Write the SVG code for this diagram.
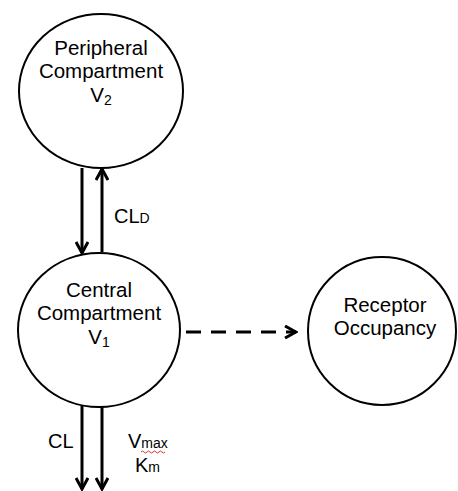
<svg xmlns="http://www.w3.org/2000/svg" width="458" height="491" viewBox="0 0 458 491">
<defs>
<style>
.node{fill:#fff;stroke:#000;stroke-width:2}
.t{font-family:"Liberation Sans",Arial,sans-serif;font-size:20.5px;fill:#000;text-anchor:middle}
.l{font-family:"Liberation Sans",Arial,sans-serif;font-size:20px;fill:#000}
.sub{font-size:14px}
.c{fill:none;stroke:#000;stroke-width:3}
</style>
<marker id="ah" viewBox="0 0 14 14" refX="12" refY="7" markerWidth="14" markerHeight="14" markerUnits="userSpaceOnUse" orient="auto">
<path d="M1,1 L12,7 L1,13" fill="none" stroke="#000" stroke-width="3"/>
</marker>
</defs>
<rect width="458" height="491" fill="#fff"/>
<g id="peripheral">
<ellipse class="node" cx="101" cy="91" rx="82" ry="77"/>
<text class="t" x="101" y="55">Peripheral</text>
<text class="t" x="101" y="78">Compartment</text>
<text class="t" x="101" y="102">V<tspan class="sub" dy="3">2</tspan></text>
</g>
<g id="central">
<ellipse class="node" cx="99" cy="330" rx="81" ry="77"/>
<text class="t" x="99" y="297">Central</text>
<text class="t" x="99" y="320">Compartment</text>
<text class="t" x="99" y="344">V<tspan class="sub" dy="3">1</tspan></text>
</g>
<g id="receptor">
<ellipse class="node" cx="382" cy="331" rx="74" ry="74"/>
<text class="t" x="385" y="312">Receptor</text>
<text class="t" x="385" y="335">Occupancy</text>
</g>
<g id="connectors">
<line class="c" x1="82" y1="168" x2="82" y2="253" marker-end="url(#ah)"/>
<line class="c" x1="102" y1="252" x2="102" y2="169" marker-end="url(#ah)"/>
<line class="c" x1="186" y1="332" x2="296" y2="332" stroke-dasharray="15,10" marker-end="url(#ah)"/>
<line class="c" x1="82" y1="406" x2="82" y2="489" marker-end="url(#ah)"/>
<line class="c" x1="102" y1="406" x2="102" y2="489" marker-end="url(#ah)"/>
</g>
<g id="labels">
<text class="l" x="114" y="223">CL<tspan class="sub">D</tspan></text>
<text class="l" x="48" y="448">CL</text>
<text class="l" x="128" y="448">V<tspan class="sub">max</tspan></text>
<path d="M141,452 q1.5,-2 3,0 t3,0 t3,0 t3,0 t3,0 t3,0 t3,0 t3,0" fill="none" stroke="#e03030" stroke-width="1"/>
<text class="l" x="135" y="472">K<tspan class="sub">m</tspan></text>
</g>
</svg>
